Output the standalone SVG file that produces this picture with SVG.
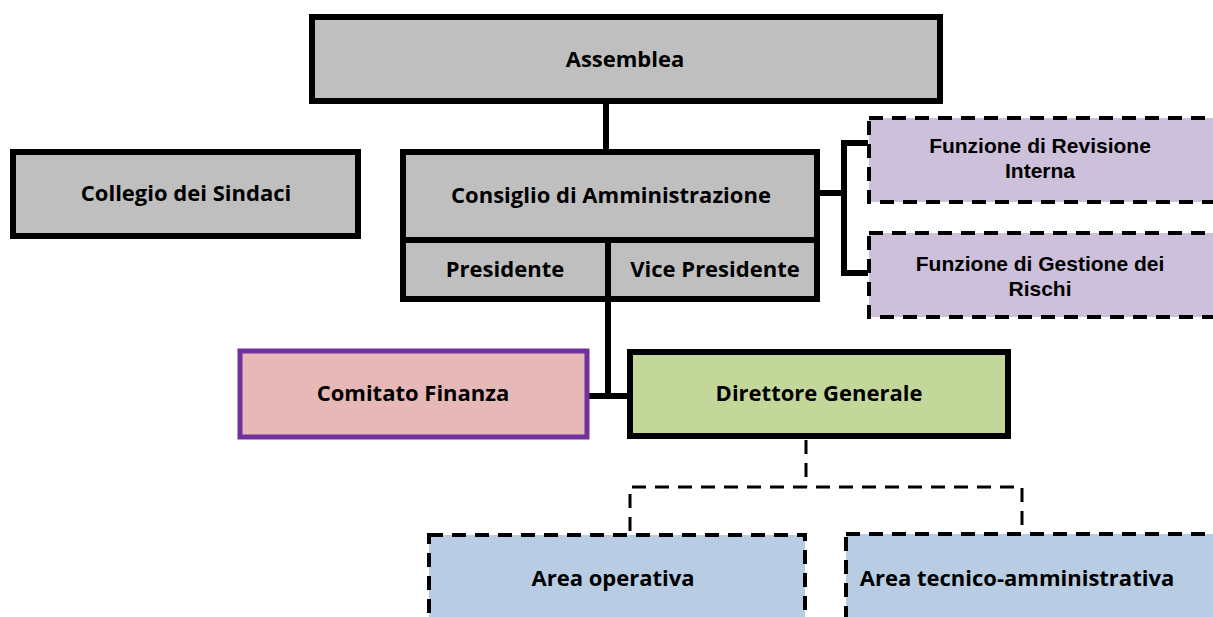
<svg xmlns="http://www.w3.org/2000/svg" width="1213" height="617" viewBox="0 0 1213 617">
<style>
text{font-family:"Open Sans","Liberation Sans",sans-serif;font-weight:bold;font-size:22px;fill:#000;text-anchor:middle;dominant-baseline:central}
.two{font-family:"Liberation Sans",Arial,sans-serif;font-size:21px}
.solid{stroke:#000;stroke-width:6}
.dash{stroke:#000;stroke-width:4;stroke-dasharray:14 9}
.gray{fill:#BFBFBF}
.lilac{fill:#CCC0DA}
.blue{fill:#B8CCE4}
.line{fill:none;stroke:#000;stroke-width:6}
.dline{fill:none;stroke:#000;stroke-width:3;stroke-dasharray:14 9}
</style>
<rect width="1213" height="617" fill="#fff"/>
<g id="connectors">
<line class="line" x1="606" y1="103" x2="606" y2="150"/>
<line class="line" x1="608" y1="300" x2="608" y2="398"/>
<line class="line" x1="588" y1="396" x2="628" y2="396"/>
<polyline class="line" points="820,193 844,193"/>
<polyline class="line" points="868,143 844,143 844,273 868,273"/>
<polyline class="dline" points="806,440 806,487"/>
<polyline class="dline" points="630,531 630,487 1022,487 1022,531"/>
</g>
<g id="assemblea">
<rect class="gray solid" x="312" y="17" width="628" height="84"/>
<text x="625" y="58">Assemblea</text>
</g>
<g id="collegio">
<rect class="gray solid" x="13" y="152" width="345" height="84"/>
<text x="186" y="192">Collegio dei Sindaci</text>
</g>
<g id="cda">
<rect class="gray solid" x="403" y="152" width="414" height="88"/>
<text x="611" y="194">Consiglio di Amministrazione</text>
</g>
<g id="presidente">
<rect class="gray solid" x="403" y="240" width="205" height="59"/>
<text x="505" y="268">Presidente</text>
</g>
<g id="vicepresidente">
<rect class="gray solid" x="608" y="240" width="209" height="59"/>
<text x="715" y="268">Vice Presidente</text>
</g>
<g id="revisione">
<rect class="lilac dash" x="869" y="118" width="350" height="84"/>
<text class="two" x="1040" y="145">Funzione di Revisione</text>
<text class="two" x="1040" y="170">Interna</text>
</g>
<g id="rischi">
<rect class="lilac dash" x="869" y="233" width="350" height="84"/>
<text class="two" x="1040" y="263">Funzione di Gestione dei</text>
<text class="two" x="1040" y="288">Rischi</text>
</g>
<g id="comitato">
<rect x="240" y="351" width="347" height="86" fill="#E6B8B7" stroke="#7030A0" stroke-width="5"/>
<text x="413" y="392">Comitato Finanza</text>
</g>
<g id="direttore">
<rect x="630" y="352" width="378" height="84" fill="#C4D79B" stroke="#000" stroke-width="6"/>
<text x="819" y="392">Direttore Generale</text>
</g>
<g id="areaoperativa">
<rect class="blue dash" x="429" y="535" width="376" height="100"/>
<text x="613" y="577">Area operativa</text>
</g>
<g id="areatecnico">
<rect class="blue dash" x="846" y="534" width="380" height="100"/>
<text x="1017" y="577">Area tecnico-amministrativa</text>
</g>
</svg>
